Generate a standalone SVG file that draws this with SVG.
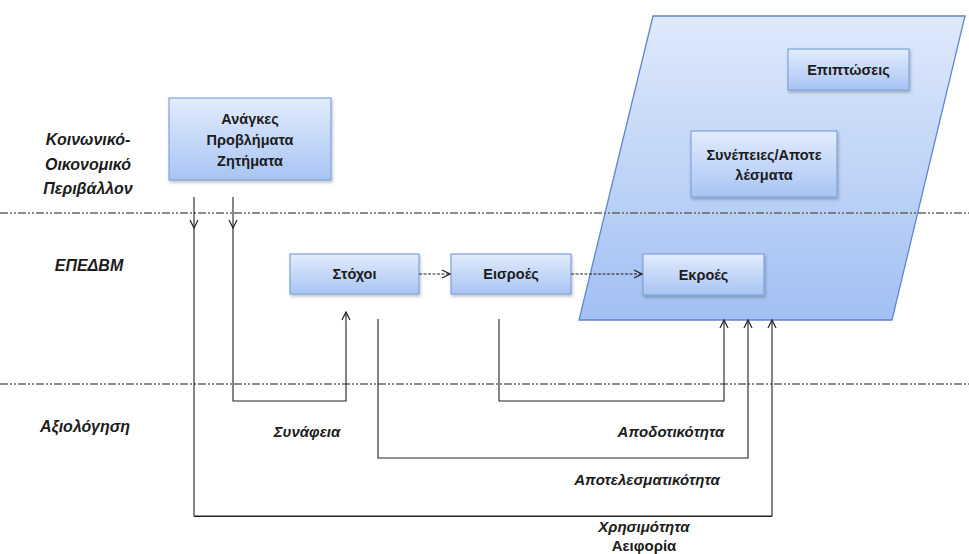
<svg xmlns="http://www.w3.org/2000/svg" width="969" height="554" viewBox="0 0 969 554">
<defs>
<linearGradient id="boxg" x1="0" y1="0" x2="0" y2="1">
<stop offset="0" stop-color="#e2ecfc"/>
<stop offset="1" stop-color="#a8c4f4"/>
</linearGradient>
<linearGradient id="parg" x1="0" y1="0" x2="0" y2="1">
<stop offset="0" stop-color="#dfe9fb"/>
<stop offset="1" stop-color="#a2c0f3"/>
</linearGradient>
<filter id="sh" x="-10%" y="-10%" width="120%" height="130%">
<feDropShadow dx="1" dy="2" stdDeviation="1.5" flood-color="#000" flood-opacity="0.25"/>
</filter>
<marker id="ah" viewBox="0 0 10 10" refX="9" refY="5" markerWidth="10" markerHeight="10" markerUnits="userSpaceOnUse" orient="auto">
<path d="M1,1 L9,5 L1,9" fill="none" stroke="#222" stroke-width="1.2"/>
</marker>
</defs>
<style>
.box{fill:url(#boxg);stroke:#7fa3dc;stroke-width:1.2;filter:url(#sh)}
.bt{font-family:"Liberation Sans",Arial,sans-serif;font-size:14.5px;font-weight:bold;fill:#1c1c1c;text-anchor:middle}
.lbl{font-family:"Liberation Sans",Arial,sans-serif;font-size:15px;font-weight:bold;font-style:italic;fill:#1c1c1c;text-anchor:middle}
.side{font-family:"Liberation Sans",Arial,sans-serif;font-size:16px;font-weight:bold;font-style:italic;fill:#1c1c1c;text-anchor:middle}
.sep{stroke:#666;stroke-width:1.3;stroke-dasharray:8 2 2 2 2 2;fill:none}
.ln{stroke:#222;stroke-width:1.1;fill:none}
.dash{stroke:#222;stroke-width:1.1;fill:none;stroke-dasharray:3 1.5}
</style>
<rect width="969" height="554" fill="#fff"/>
<g id="region">
<polygon points="653,16 965,16 892,320 579,320" fill="url(#parg)" stroke="#5f88c9" stroke-width="1.3"/>
</g>
<g id="separators">
<line class="sep" x1="0" y1="213" x2="969" y2="213"/>
<line class="sep" x1="0" y1="384" x2="969" y2="384"/>
</g>
<g id="side-labels">
<text class="side" x="88" y="145">Κοινωνικό-</text>
<text class="side" x="88" y="170">Οικονομικό</text>
<text class="side" x="88" y="194">Περιβάλλον</text>
<text class="side" x="89" y="271">ΕΠΕΔΒΜ</text>
<text class="side" x="85" y="432">Αξιολόγηση</text>
</g>
<g id="node-anagkes">
<rect class="box" x="169" y="98" width="162" height="82"/>
<text class="bt" x="250" y="124">Ανάγκες</text>
<text class="bt" x="250" y="145">Προβλήματα</text>
<text class="bt" x="250" y="166">Ζητήματα</text>
</g>
<g id="node-stoxoi">
<rect class="box" x="290" y="254" width="129" height="40"/>
<text class="bt" x="354.5" y="279">Στόχοι</text>
</g>
<g id="node-eisroes">
<rect class="box" x="451" y="254" width="120" height="40"/>
<text class="bt" x="511" y="279">Εισροές</text>
</g>
<g id="node-ekroes">
<rect class="box" x="643" y="254" width="121" height="41"/>
<text class="bt" x="703.5" y="280">Εκροές</text>
</g>
<g id="node-synepeies">
<rect class="box" x="691" y="131" width="146" height="66"/>
<text class="bt" x="764" y="160">Συνέπειες/Αποτε</text>
<text class="bt" x="764" y="180">λέσματα</text>
</g>
<g id="node-epiptoseis">
<rect class="box" x="788" y="49" width="121" height="41"/>
<text class="bt" x="848.5" y="75">Επιπτώσεις</text>
</g>
<g id="connectors">
<path class="dash" d="M419,274 H450" marker-end="url(#ah)"/>
<path class="dash" d="M571,274 H642" marker-end="url(#ah)"/>
<path class="ln" d="M194,197 V228" marker-end="url(#ah)"/>
<path class="ln" d="M233,197 V228" marker-end="url(#ah)"/>
<path class="ln" d="M233,228 V401 H346 V312" marker-end="url(#ah)"/>
<path class="ln" d="M378,319 V458 H748 V320" marker-end="url(#ah)"/>
<path class="ln" d="M499,319 V401 H724 V320" marker-end="url(#ah)"/>
<path class="ln" d="M194,228 V516 H772 V320" marker-end="url(#ah)"/>
<line x1="194" y1="516.5" x2="772" y2="516.5" stroke="#222" stroke-width="1"/>
</g>
<g id="connector-labels">
<text class="lbl" x="307" y="437">Συνάφεια</text>
<text class="lbl" x="671" y="437">Αποδοτικότητα</text>
<text class="lbl" x="647" y="485">Αποτελεσματικότητα</text>
<text class="lbl" x="644" y="532">Χρησιμότητα</text>
<text class="bt" x="644" y="551" style="font-size:15px">Αειφορία</text>
</g>
</svg>
